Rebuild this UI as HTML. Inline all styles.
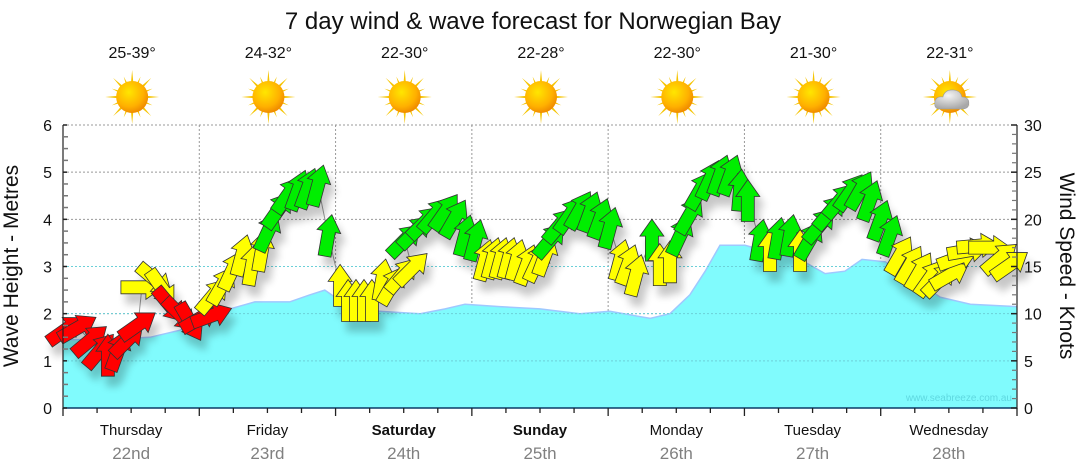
<!DOCTYPE html>
<html><head><meta charset="utf-8"><title>7 day wind & wave forecast</title>
<style>
html,body{margin:0;padding:0;background:#fff;}
svg{display:block;font-family:"Liberation Sans","DejaVu Sans",sans-serif;}
</style></head>
<body>
<svg id="chart" width="1080" height="475" viewBox="0 0 1080 475">
<defs>
<filter id="shadow" x="-50%" y="-50%" width="200%" height="200%">
<feGaussianBlur in="SourceAlpha" stdDeviation="4"/>
<feOffset dx="5" dy="10" result="o"/>
<feComponentTransfer><feFuncA type="linear" slope="0.22"/></feComponentTransfer>
<feMerge><feMergeNode/><feMergeNode in="SourceGraphic"/></feMerge>
</filter>
<radialGradient id="sunG" cx="40%" cy="35%" r="65%">
<stop offset="0" stop-color="#ffe600"/><stop offset="0.7" stop-color="#ffb000"/><stop offset="1" stop-color="#f08c00"/>
</radialGradient>
<radialGradient id="cloudG" cx="40%" cy="30%" r="70%">
<stop offset="0" stop-color="#f4f4f4"/><stop offset="1" stop-color="#a8a8a8"/>
</radialGradient>
</defs>
<text x="533" y="29" text-anchor="middle" font-size="24" fill="#111">7 day wind &amp; wave forecast for Norwegian Bay</text>
<g id="grid"></g>
<g id="wave"></g>
<g id="wind"></g>
<g id="axes"></g>
<g id="header"></g>
<text x="18" y="266" transform="rotate(-90 18 266)" text-anchor="middle" font-size="21" fill="#111">Wave Height - Metres</text>
<text x="1060" y="266" transform="rotate(90 1060 266)" text-anchor="middle" font-size="21" fill="#111">Wind Speed - Knots</text>
<text x="1012" y="401" text-anchor="end" font-size="10" fill="#5fd8e0">www.seabreeze.com.au</text>
</svg>
<script>
// ---- data ----
const days = ["Thursday","Friday","Saturday","Sunday","Monday","Tuesday","Wednesday"];
const dates = ["22nd","23rd","24th","25th","26th","27th","28th"];
const boldDays = [false,false,true,true,false,false,false];
const temps = ["25-39°","24-32°","22-30°","22-28°","22-30°","21-30°","22-31°"];
const cloudy = [false,false,false,false,false,false,true];
const waveHours = [0,6.5,15.3,20.6,24.1,29.4,33.8,39.9,43.5,46.1,49.7,55.8,62.9,67.3,70.8,76.9,84,91,96.3,103.4,106.9,110.4,113.1,115.7,120.1,124.5,129.8,134.2,137.7,140.7,144.8,150.1,154.5,159.8,168];
const waveMetres = [1.45,1.45,1.5,1.65,1.85,2.1,2.25,2.25,2.4,2.5,2.2,2.05,2.0,2.1,2.2,2.15,2.1,2.0,2.05,1.9,2.0,2.4,2.9,3.45,3.45,3.3,3.15,2.85,2.9,3.15,3.1,2.7,2.35,2.2,2.15];
const windHours = [0.5,2.6,4.8,6.5,7.9,9.7,11.4,13.2,13.9,16.2,17.4,18.8,20.6,22.4,24.1,26.2,26.4,28,29.8,31.5,33.3,35,36.1,37.9,39.6,41.4,43.1,44.9,46.7,48.8,50.2,51.6,53,54.4,56.2,57.9,59.7,61.5,60.2,62,63.7,65.5,67.3,69,70.8,72.6,74.3,75.7,77.1,78.5,79.9,81.7,83.5,84.9,85.8,87.5,89.3,91,92.8,94.6,96.3,98.1,99.5,100.9,103.7,105.1,106.9,108.7,110.4,112.2,113.9,115.7,117.5,119.2,120.6,122.7,124.5,125.9,128,129.8,131.5,133.3,135.1,136.8,138.6,140.4,142.1,143.9,145.6,147.4,149.2,150.9,152.7,154.4,156.2,157.6,159.4,161.1,163.2,165,166.8];
const windKnots = [8.3,8.5,7.2,6.1,5.6,6.1,7.2,8.8,12.8,13.6,12.7,10.9,9.9,9.1,9.5,9.8,11.9,13,14.6,16.2,15.2,16.7,18.7,21,22.6,23.1,23.3,23.6,18.3,13,11.4,11.4,11.4,11.4,13.6,13,14.1,14.8,17.8,18.7,19.7,20.5,20.8,20.1,18.3,17.8,15.7,15.9,15.9,15.9,15.7,15.2,15.5,16.2,17.8,19.4,20.5,21,20.8,20.1,19.1,15.7,15.2,14.1,17.8,15.2,15.5,18.3,20.5,23.1,24.2,24.7,24.7,23.1,22,17.8,16.7,18,18.3,16.7,17.8,19.4,20.8,22,22.9,23.1,22,19.9,18.3,16.2,15.2,14.5,13.8,13.6,14.1,15.9,16.7,17.2,17.0,15.9,15.2];
const windDir = [55,60,50,40,0,20,45,55,90,130,145,140,135,150,60,70,40,30,25,15,10,10,25,35,35,20,20,15,10,0,0,0,0,0,10,30,40,45,45,45,45,40,35,30,15,15,15,15,15,15,15,20,25,20,40,40,35,30,20,20,15,15,20,15,0,0,0,25,30,30,25,20,20,5,0,10,0,10,10,0,30,40,40,40,35,30,20,20,20,30,30,30,35,45,60,70,80,85,90,50,55];
const leftTicks = [0,1,2,3,4,5,6];
const rightTicks = [0,5,10,15,20,25,30];

// ---- scales ----
const X0=63, X1=1017, Y0=408, Y1=125, H=168;
const xh = h => X0 + (X1-X0)*h/H;
const ym = m => Y0 - (Y0-Y1)*m/6;
const yk = k => Y0 - (Y0-Y1)*k/30;
const NS="http://www.w3.org/2000/svg";
function mk(tag, attrs, parent){const e=document.createElementNS(NS,tag);for(const k in attrs)e.setAttribute(k,attrs[k]);parent.appendChild(e);return e;}

const grid=document.getElementById('grid');
for(const t of leftTicks){ if(t===0) continue;
  const l=mk('line',{x1:X0,x2:X1,y1:ym(t),y2:ym(t),stroke:'#999','stroke-width':1,'stroke-dasharray':'2,2'},grid);
   }
for(let d=1;d<7;d++){
  const l=mk('line',{x1:xh(d*24),x2:xh(d*24),y1:Y1,y2:Y0,stroke:'#999','stroke-width':1,'stroke-dasharray':'2,2'},grid);
   }

// wave area
const wave=document.getElementById('wave');
let d='M'+xh(waveHours[0])+','+Y0;
for(let i=0;i<waveHours.length;i++) d+=' L'+xh(waveHours[i]).toFixed(1)+','+ym(waveMetres[i]).toFixed(1);
d+=' L'+xh(waveHours[waveHours.length-1])+','+Y0+' Z';
const area=mk('path',{d:d,fill:'#80fbfd',stroke:'none'},wave);
 
let dl='';
for(let i=0;i<waveHours.length;i++) dl+=(i?' L':'M')+xh(waveHours[i]).toFixed(1)+','+ym(waveMetres[i]).toFixed(1);
const wl=mk('path',{d:dl,fill:'none',stroke:'#9fc8ff','stroke-width':1.5},wave);
 
for(const t of leftTicks){ if(t===0||t>=4) continue;
  const l=mk('line',{x1:X0,x2:X1,y1:ym(t),y2:ym(t),stroke:'#6cd0d8','stroke-width':1,'stroke-dasharray':'2,2'},wave);
   }

// wind
const wind=document.getElementById('wind');
let wd='';
for(let i=0;i<windHours.length;i++) wd+=(i?' L':'M')+xh(windHours[i]).toFixed(1)+','+yk(windKnots[i]).toFixed(1);
const wline=mk('path',{d:wd,fill:'none',stroke:'#999','stroke-width':1},wind);
 
const arrowPath='M0,-21 L12,-4 L6.5,-4 L6.5,21 L-6.5,21 L-6.5,-4 L-12,-4 Z';
const ag=mk('g',{filter:'url(#shadow)'},wind);
 
for(let i=0;i<windHours.length;i++){
  const k=windKnots[i];
  const col = k<11 ? '#ff0000' : (k<17.5 ? '#ffff00' : '#00ee00');
  const a=mk('path',{d:arrowPath,fill:col,stroke:'#333','stroke-width':0.8,'stroke-linejoin':'miter',
    transform:'translate('+xh(windHours[i]).toFixed(1)+','+yk(k).toFixed(1)+') rotate('+windDir[i]+')'},ag);
  
  
}

// axes
const ax=document.getElementById('axes');
const la=mk('line',{x1:X0,x2:X0,y1:Y1,y2:Y0+1,stroke:'#222','stroke-width':1.2},ax);
 
const ra=mk('line',{x1:X1,x2:X1,y1:Y1,y2:Y0+1,stroke:'#222','stroke-width':1.2},ax);
 
const ba=mk('line',{x1:X0,x2:X1,y1:Y0,y2:Y0,stroke:'#0b3a66','stroke-width':1.5},ax);
 
for(let m=0;m<=6.001;m+=0.25){
  const major=Math.abs(m-Math.round(m))<0.01;
  const t=mk('line',{x1:X0,x2:X0+(major?4:5),y1:ym(m),y2:ym(m),stroke:major?'#222':'#777','stroke-width':1.5},ax);
   
}
for(const t of leftTicks){
  const tx=mk('text',{x:52,y:ym(t)+6,'text-anchor':'end','font-size':16,fill:'#111'},ax);
  tx.textContent=t;
   
}
for(let k=0;k<=30;k++){
  const major=k%5===0;
  const t=mk('line',{x1:X1,x2:X1-(major?6:5),y1:yk(k),y2:yk(k),stroke:major?'#222':'#777','stroke-width':major?1.5:1.2},ax);
   
}
for(const t of rightTicks){
  const tx=mk('text',{x:1024,y:yk(t)+6,'text-anchor':'start','font-size':16,fill:'#111'},ax);
  tx.textContent=t;
   
}
for(let h=0;h<=H;h+=6){
  const major=h%24===0;
  const t=mk('line',{x1:xh(h),x2:xh(h),y1:Y0,y2:Y0+(major?8:5),stroke:'#222','stroke-width':1.3},ax);
   
}
for(let i=0;i<7;i++){
  const cx=xh(i*24+12);
  const t1=mk('text',{x:cx,y:435,'text-anchor':'middle','font-size':15,fill:'#111','font-weight':boldDays[i]?'bold':'normal'},ax);
  t1.textContent=days[i];
   
  const t2=mk('text',{x:cx,y:459,'text-anchor':'middle','font-size':17,fill:'#808080'},ax);
  t2.textContent=dates[i];
   
}

// header: temps + icons
const hd=document.getElementById('header');
for(let i=0;i<7;i++){
  const cx=xh(i*24+12)+1;
  const t=mk('text',{x:cx,y:58,'text-anchor':'middle','font-size':16,fill:'#111'},hd);
  t.textContent=temps[i];
   
  const g=mk('g',{transform:'translate('+cx+',97)'},hd);
  
  
  for(let r=0;r<16;r++){
    const ang=r*22.5, L=(r%2===0)?27:22;
    const ray=mk('path',{d:'M-2.5,0 L0,-'+L+' L2.5,0 Z',fill:'#f5c400',transform:'rotate('+ang+')'},g);
     
  }
  const disc=mk('circle',{cx:0,cy:0,r:16,fill:'url(#sunG)'},g);
   
  if(cloudy[i]){
    const c=mk('path',{d:'M-10,12 Q-16,12 -15,5 Q-14,-1 -7,0 Q-5,-8 4,-7 Q11,-6 12,0 Q19,0 19,6 Q19,12 12,12 Z',fill:'url(#cloudG)',stroke:'#9a9a9a','stroke-width':0.6},g);
     
  }
}
</script>
</body></html>
